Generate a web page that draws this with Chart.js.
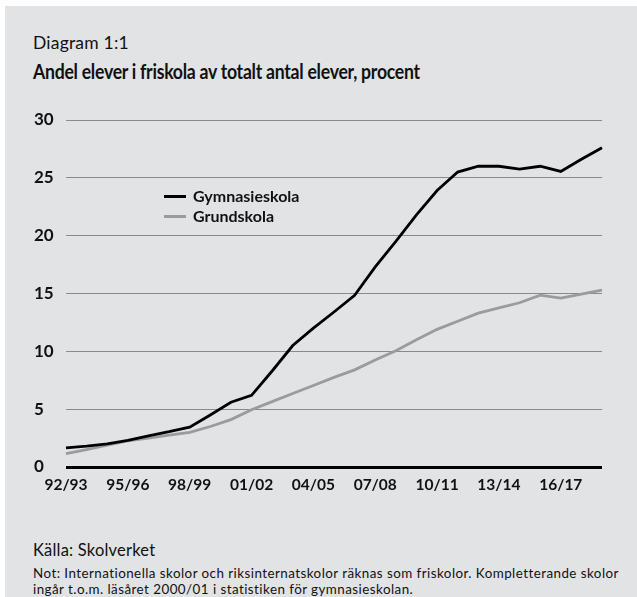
<!DOCTYPE html>
<html>
<head>
<meta charset="utf-8">
<script src="https://cdn.jsdelivr.net/npm/chart.js@4"></script>
<style>
  body { margin: 0; background: #fff; width: 637px; height: 597px; overflow: hidden; position: relative; font-family: Lato, sans-serif; color: #111; }
  #panel { position: absolute; left: 5px; top: 6px; width: 632px; height: 591px; background: #e2e3e5; }
  .txt { position: absolute; white-space: nowrap; }
  #kicker { left: 33px; top: 32px; font-size: 17.5px; letter-spacing: 0.2px; }
  #title { left: 33px; top: 59px; font-size: 20.5px; font-weight: bold; letter-spacing: -0.3px; transform: scaleX(0.86); transform-origin: left center; }
  #source { left: 33px; top: 540px; font-size: 16.5px; letter-spacing: 0.2px; }
  #note { left: 33px; top: 566px; font-size: 13.4px; line-height: 15.5px; letter-spacing: 0.45px; }
  #legend { position: absolute; left: 164px; top: 186px; font-size: 16px; font-weight: bold; }
  #legend div { height: 20px; line-height: 20px; }
  #legend span.swatch { display: inline-block; width: 22px; height: 3px; vertical-align: middle; margin-right: 7px; position: relative; top: -1px; }
  canvas { position: absolute; left: 0; top: 100px; }
</style>
</head>
<body>
<div id="panel"></div>
<div class="txt" id="kicker">Diagram 1:1</div>
<div class="txt" id="title">Andel elever i friskola av totalt antal elever, procent</div>
<canvas id="chart" width="637" height="410"></canvas>
<div id="legend"></div>
<div class="txt" id="source">Källa: Skolverket</div>
<div class="txt" id="note">Not: Internationella skolor och riksinternatskolor räknas som friskolor. Kompletterande skolor<br>ingår t.o.m. läsåret 2000/01 i statistiken för gymnasieskolan.</div>
<script>
const years = ['92/93', '93/94', '94/95', '95/96', '96/97', '97/98', '98/99', '99/00', '00/01',
  '01/02', '02/03', '03/04', '04/05', '05/06', '06/07', '07/08', '08/09', '09/10',
  '10/11', '11/12', '12/13', '13/14', '14/15', '15/16', '16/17', '17/18', '18/19']

const gymnasieskola = [1.65, 1.8, 2.0, 2.3, 2.7, 3.05, 3.45, 4.5, 5.6, 6.2, 8.3, 10.5, 12.0, 13.4,
  14.85, 17.3, 19.5, 21.8, 23.9, 25.5, 26.0, 26.0, 25.75, 26.0, 25.55, 26.6, 27.6]
const grundskola = [1.15, 1.5, 1.9, 2.25, 2.5, 2.75, 3.0, 3.5, 4.1, 4.95, 5.65, 6.35, 7.05, 7.75,
  8.4, 9.25, 10.05, 11.0, 11.9, 12.6, 13.3, 13.75, 14.2, 14.85, 14.6, 14.95, 15.3]

const yTicks = [0, 5, 10, 15, 20, 25, 30]

const series = [
  { label: 'Gymnasieskola', data: gymnasieskola, color: '#000000' },
  { label: 'Grundskola', data: grundskola, color: '#9b9b9b' },
]

const chart = new Chart(document.getElementById('chart'), {
  type: 'line',
  data: {
    labels: years,
    datasets: series.map(s => ({
      label: s.label,
      data: s.data,
      borderColor: s.color,
      backgroundColor: s.color,
      borderWidth: 2.8,
      pointRadius: 0,
      tension: 0,
    }))
  },
  options: {
    responsive: false,
    animation: false,
    layout: { padding: { left: 34, right: 35, top: 20, bottom: 0 } },
    plugins: { legend: { display: false }, tooltip: { enabled: false } },
    scales: {
      x: {
        afterFit: scale => { scale.height = 43 },
        grid: { display: false, drawTicks: false },
        border: { display: false },
        ticks: {
          color: '#111',
          font: { family: 'Lato', size: 15.5, weight: 'bold' },
          autoSkip: false,
          maxRotation: 0,
          padding: 9,
          callback: (v, i) => (i % 3 === 0 ? years[i] : ''),
        },
      },
      y: {
        min: 0,
        max: 30,
        afterFit: scale => { scale.width = 32 },
        afterBuildTicks: scale => { scale.ticks = yTicks.map(v => ({ value: v })) },
        grid: {
          drawTicks: false,
          color: ctx => (ctx.tick.value === 0 ? '#000' : '#8a8a8a'),
          lineWidth: ctx => (ctx.tick.value === 0 ? 3 : 1),
        },
        border: { display: false },
        ticks: { color: '#111', font: { family: 'Lato', size: 17, weight: 'bold' }, crossAlign: 'far', padding: 0 },
      },
    },
  },
})

// legend sits inside the plot, built from the datasets
const legend = document.getElementById('legend')
chart.data.datasets.forEach(ds => {
  const row = document.createElement('div')
  row.innerHTML = `<span class="swatch" style="background:${ds.borderColor}"></span>${ds.label}`
  legend.append(row)
})
</script>
</body>
</html>
